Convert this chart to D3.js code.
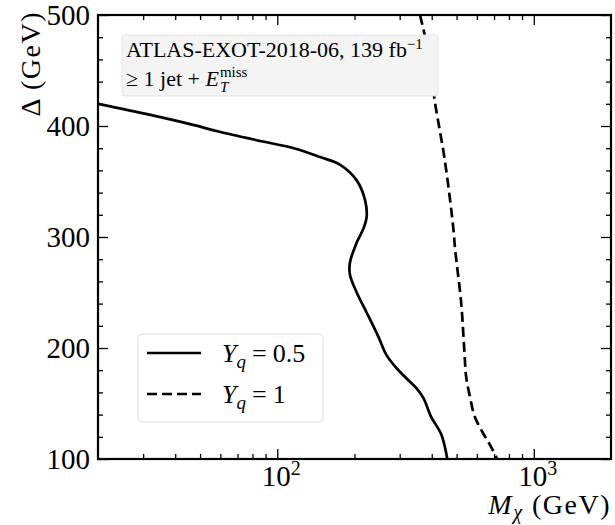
<!DOCTYPE html>
<html>
<head>
  <meta charset="utf-8">
  <script src="https://d3js.org/d3.v7.min.js"></script>
  <style>
    body { margin: 0; background: #fff; }
    text { font-family: "Liberation Serif", "DejaVu Serif", serif; fill: #000; }
  </style>
</head>
<body>
  <script>
    // exclusion contours
    let solidX = [20, 32, 47, 59, 88, 116, 147, 176, 204, 220, 223, 217, 204, 192, 192, 204, 223, 248, 266, 291, 318, 348, 371, 398, 436, 460]
    let solidY = [420, 410, 401, 395, 386, 380, 372, 365, 351, 333, 318, 308, 295, 277, 266, 250, 232, 210, 194, 182, 173, 164, 155, 138, 122, 100]
    let dashedX = [360, 381, 412, 450, 485, 494, 521, 536, 545, 564, 589, 635, 674, 720]
    let dashedY = [500, 475, 421, 369, 309, 288, 241, 198, 174, 156, 138, 123, 113, 100]

    let xMajor = [100, 1000]
    let xMajorExp = ["2", "3"]
    let xMinor = [30, 40, 50, 60, 70, 80, 90, 200, 300, 400, 500, 600, 700, 800, 900]
    let yMajor = [100, 200, 300, 400, 500]
    let yMinor = [120, 140, 160, 180, 220, 240, 260, 280, 320, 340, 360, 380, 420, 440, 460, 480]

    var width = 615,
        height = 525;
    var pL = 98, pR = 611, pT = 15, pB = 459;

    var svg = d3.select('body')
      .append('svg')
      .attr('width', width)
      .attr('height', height);

    var x = d3.scaleLog().domain([20, 2000]).range([pL, pR]);
    var y = d3.scaleLinear().domain([100, 500]).range([pB, pT]);

    svg.append('clipPath').attr('id', 'plot')
      .append('rect')
      .attr('x', pL).attr('y', pT)
      .attr('width', pR - pL).attr('height', pB - pT);

    // axes, ticks pointing inwards on all four sides
    function ticks(axis, vals, size, tr) {
      var g = svg.append('g')
        .attr('transform', tr)
        .call(axis.tickValues(vals).tickSize(size).tickFormat(''));
      g.select('.domain').remove();
      g.selectAll('line').attr('stroke', '#000').attr('stroke-width', 1.3);
      return g;
    }
    ticks(d3.axisBottom(x), xMajor, -10, `translate(0,${pB})`);
    ticks(d3.axisBottom(x), xMinor, -5, `translate(0,${pB})`);
    ticks(d3.axisTop(x), xMajor, -10, `translate(0,${pT})`);
    ticks(d3.axisTop(x), xMinor, -5, `translate(0,${pT})`);
    ticks(d3.axisLeft(y), yMajor, -10, `translate(${pL},0)`);
    ticks(d3.axisLeft(y), yMinor, -5, `translate(${pL},0)`);
    ticks(d3.axisRight(y), yMajor, -10, `translate(${pR},0)`);
    ticks(d3.axisRight(y), yMinor, -5, `translate(${pR},0)`);

    // tick labels
    xMajor.forEach(function(v, i) {
      var t = svg.append('text')
        .attr('x', x(v) + 4).attr('y', pB + 27)
        .attr('text-anchor', 'middle')
        .style('font-size', '29px');
      t.append('tspan').text('10');
      t.append('tspan').attr('dy', -11).style('font-size', '20px').text(xMajorExp[i]);
    });
    svg.selectAll('.ylab')
      .data(yMajor)
      .enter()
      .append('text')
      .attr('x', pL - 8)
      .attr('y', function(d) { return y(d) + 10; })
      .attr('text-anchor', 'end')
      .style('font-size', '29px')
      .text(function(d) { return d; });

    // axis titles
    var xl = svg.append('text')
      .attr('x', pR).attr('y', 514)
      .attr('text-anchor', 'end')
      .style('font-size', '28px')
      .style('letter-spacing', '1.5px');
    xl.append('tspan').style('font-style', 'italic').text('M');
    xl.append('tspan').attr('dy', 5).style('font-style', 'italic').style('font-size', '20px').text('χ');
    xl.append('tspan').attr('dy', -5).text(' (GeV)');

    svg.append('text')
      .attr('transform', 'translate(40,11) rotate(-90)')
      .attr('text-anchor', 'end')
      .style('font-size', '28px')
      .style('letter-spacing', '1.5px')
      .text('Δ (GeV)');

    // curves
    let line = d3.line()
      .x(function(d) { return x(d[0]); })
      .y(function(d) { return y(d[1]); })
      .curve(d3.curveCatmullRom.alpha(0.5));

    var curves = svg.append('g').attr('clip-path', 'url(#plot)');
    curves.append('path')
      .attr('d', line(d3.zip(solidX, solidY)))
      .attr('fill', 'none')
      .attr('stroke', '#000')
      .attr('stroke-width', 2.7);
    curves.append('path')
      .attr('d', line(d3.zip(dashedX, dashedY)))
      .attr('fill', 'none')
      .attr('stroke', '#000')
      .attr('stroke-width', 2.7)
      .attr('stroke-dasharray', '10,5');

    // frame
    svg.append('rect')
      .attr('x', pL).attr('y', pT)
      .attr('width', pR - pL).attr('height', pB - pT)
      .attr('fill', 'none')
      .attr('stroke', '#000')
      .attr('stroke-width', 2.2);

    // info box
    svg.append('rect')
      .attr('x', 122).attr('y', 35)
      .attr('width', 316).attr('height', 61)
      .attr('rx', 3)
      .attr('fill', '#f4f4f4')
      .attr('stroke', '#e2e2e2');
    var l1 = svg.append('text')
      .attr('x', 126).attr('y', 57)
      .style('font-size', '22px');
    l1.append('tspan').text('ATLAS-EXOT-2018-06, 139 fb');
    l1.append('tspan').attr('dy', -8).style('font-size', '15px').text('−1');
    var l2 = svg.append('text')
      .attr('x', 126).attr('y', 86)
      .style('font-size', '22px');
    l2.append('tspan').text('≥ 1 jet + ');
    l2.append('tspan').style('font-style', 'italic').text('E');
    var ex = 126 + l2.node().getComputedTextLength() + 1;
    svg.append('text').attr('x', ex).attr('y', 77).style('font-size', '15px').text('miss');
    svg.append('text').attr('x', ex).attr('y', 92).style('font-size', '15px').style('font-style', 'italic').text('T');

    // legend
    svg.append('rect')
      .attr('x', 138).attr('y', 334)
      .attr('width', 185).attr('height', 88)
      .attr('rx', 4)
      .attr('fill', '#fff')
      .attr('stroke', '#dcdcdc');
    let legendNames = ['0.5', '1'];
    let legendDash = [null, '10,5'];
    legendNames.forEach(function(n, i) {
      var ly = 353 + i * 41;
      svg.append('line')
        .attr('x1', 147).attr('x2', 201)
        .attr('y1', ly).attr('y2', ly)
        .attr('stroke', '#000')
        .attr('stroke-width', 2.7)
        .attr('stroke-dasharray', legendDash[i]);
      var t = svg.append('text')
        .attr('x', 222).attr('y', ly + 9)
        .style('font-size', '26px');
      t.append('tspan').style('font-style', 'italic').text('Y');
      t.append('tspan').attr('dy', 6).style('font-style', 'italic').style('font-size', '19px').text('q');
      t.append('tspan').attr('dy', -6).attr('dx', 6).text('=');
      t.append('tspan').attr('dx', 6).text(n);
    });
  </script>
</body>
</html>
